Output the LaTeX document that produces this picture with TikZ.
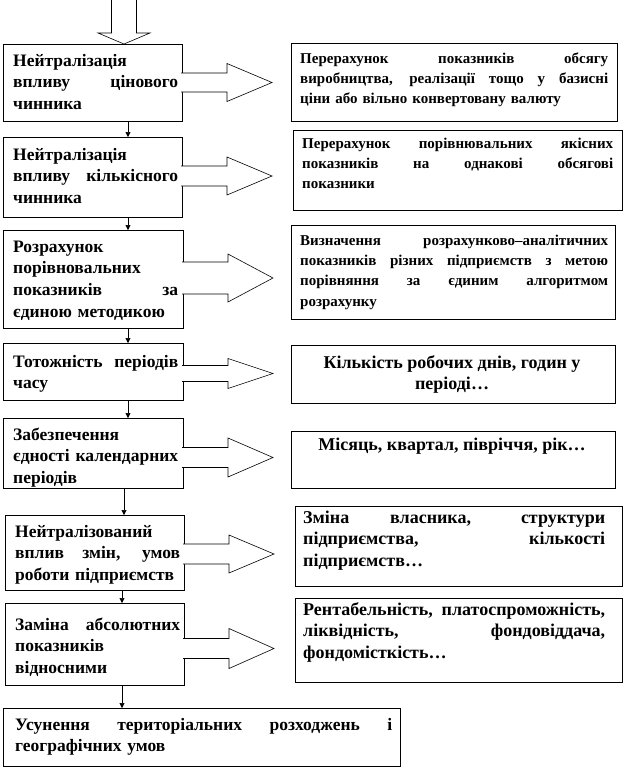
\documentclass[tikz,border=0pt]{standalone}
\usepackage{fontspec}
\setmainfont{Liberation Serif}
\usetikzlibrary{arrows.meta,calc}
\newcommand\jl[1]{\leavevmode\hbox to \hsize{\spaceskip=.25em plus 1fil minus .08em\xspaceskip=\spaceskip #1}}
\newcommand\blockar[4]{%
  \filldraw[barrow] ($(#1.east)+(-0.8,#2-#3)$) -- ($(#1.east)+(45,#2-#3)$)
    -- ($(#1.east)+(45,#2-#4)$) -- ($(#1.east)+(90,#2)$)
    -- ($(#1.east)+(45,#2+#4)$) -- ($(#1.east)+(45,#2+#3)$)
    -- ($(#1.east)+(-0.8,#2+#3)$);}
\begin{document}
\begin{tikzpicture}[x=1pt,y=-1pt,
  box/.style={draw,line width=0.6pt,fill=white,inner sep=0pt,outer sep=0pt,anchor=north west},
  barrow/.style={draw=black,fill=white,line width=0.6pt,line join=miter},
  conn/.style={draw,line width=0.6pt,-{Triangle[length=5pt,width=5pt]}},
  ltxt/.style={anchor=north west,inner sep=0pt,align=left,font=\fontsize{17.5}{21.7}\selectfont\bfseries},
  mtxt/.style={anchor=north west,inner sep=0pt,align=left,font=\fontsize{18}{21.7}\selectfont\bfseries},
  rtxt/.style={anchor=north west,inner sep=0pt,align=left,font=\fontsize{15}{20.3}\selectfont\bfseries},
  ctxt/.style={anchor=north,inner sep=0pt,align=center,font=\fontsize{18}{21}\selectfont\bfseries}]
\fill[white] (0,0) rectangle (624,769);
\useasboundingbox (0,0) rectangle (624,769);
% left boxes
\node[box,minimum width=179pt,minimum height=77pt] (L1) at (3,44) {};
\node[box,minimum width=179pt,minimum height=80pt] (L2) at (3,137) {};
\node[box,minimum width=180pt,minimum height=98pt] (L3) at (3,230) {};
\node[box,minimum width=180pt,minimum height=57pt] (L4) at (3,343) {};
\node[box,minimum width=180pt,minimum height=70pt] (L5) at (3,418) {};
\node[box,minimum width=179pt,minimum height=75pt] (L6) at (5,515) {};
\node[box,minimum width=179pt,minimum height=82pt] (L7) at (5,603) {};
\node[box,minimum width=397pt,minimum height=58pt] (L8) at (3,708) {};
% right boxes
\node[box,minimum width=326pt,minimum height=78pt] (R1) at (291,43) {};
\node[box,minimum width=329pt,minimum height=80pt] (R2) at (293,130) {};
\node[box,minimum width=324pt,minimum height=94pt] (R3) at (291,225) {};
\node[box,minimum width=324pt,minimum height=58pt] (R4) at (291,345) {};
\node[box,minimum width=324pt,minimum height=57pt] (R5) at (291,431) {};
\node[box,minimum width=327pt,minimum height=80pt] (R6) at (295,506) {};
\node[box,minimum width=327pt,minimum height=84pt] (R7) at (295,598) {};
% block arrows
\blockar{L1}{0}{9.5}{19}
\blockar{L2}{-1}{10}{19}
\blockar{L3}{-1}{16}{24}
\blockar{L4}{2}{8}{15}
\blockar{L5}{4.5}{10}{19.5}
\blockar{L6}{1.5}{10}{19}
\blockar{L7}{4.5}{10}{20}
% top entry arrow
\coordinate (topin) at ($(L1.north west)+(121,0)$);
\draw[barrow] ($(topin)+(-12.5,-44)$) -- ($(topin)+(-12.5,-11)$) -- ($(topin)+(-26,-11)$)
  -- (topin) -- ($(topin)+(26,-11)$) -- ($(topin)+(12.5,-11)$) -- ($(topin)+(12.5,-44)$);
% connectors
\coordinate (c1) at (128,0);
\coordinate (c2) at (124,0);
\coordinate (c3) at (122,0);
\draw[conn] (L1.south -| c1) -- (L2.north -| c1);
\draw[conn] (L2.south -| c1) -- (L3.north -| c1);
\draw[conn] (L3.south -| c1) -- (L4.north -| c1);
\draw[conn] (L4.south -| c1) -- (L5.north -| c1);
\draw[conn] (L5.south -| c2) -- (L6.north -| c2);
\draw[conn] (L6.south -| c3) -- (L7.north -| c3);
\draw[conn] (L7.south -| c3) -- (L8.north -| c3);
% left texts
\node[ltxt,text width=165pt] (T1) at (13,50.8) {\strut Нейтралізація\\\jl{впливу цінового}\\чинника};
\node[ltxt,text width=165pt] (T2) at (13,144.8) {\strut Нейтралізація\\\jl{впливу кількісного}\\чинника};
\node[ltxt,text width=165pt] (T3) at (13,236.8) {\strut Розрахунок\\порівновальних\\\jl{показників за}\\\mbox{єдиною методикою}};
\node[ltxt,text width=165pt] (T4) at (13,351.8) {\strut\jl{Тотожність періодів}\\часу};
\node[ltxt,text width=165pt] (T5) at (13,424.8) {\strut Забезпечення\\\jl{єдності календарних}\\періодів};
\node[ltxt,text width=165pt] (T6) at (15,521.8) {\strut Нейтралізований\\\jl{вплив змін, умов}\\\mbox{роботи підприємств}};
\node[ltxt,text width=165pt] (T7) at (15,614.8) {\strut\jl{Заміна абсолютних}\\показників\\відносними};
\node[ltxt,text width=377pt] (T8) at (15,714.8) {\strut\jl{Усунення територіальних розходжень і}\\\mbox{географічних умов}};
% right texts
\node[rtxt,text width=308pt] (S1) at (300,48.8) {\strut\jl{Перерахунок показників обсягу}\\\jl{виробництва, реалізації тощо у базисні}\\\mbox{ціни або вільно конвертовану валюту}};
\node[rtxt,text width=311pt] (S2) at (302,133.8) {\strut\jl{Перерахунок порівнювальних якісних}\\\jl{показників на однакові обсягові}\\показники};
\node[rtxt,text width=308pt] (S3) at (300,230.8) {\strut\jl{Визначення розрахунково–аналітичних}\\\jl{показників різних підприємств з метою}\\\jl{порівняння за єдиним алгоритмом}\\розрахунку};
\node[ctxt] (S4) at (452,353.3) {\strut Кількість робочих днів, годин у\\періоді…};
\node[ctxt] (S5) at (452,435.3) {\strut Місяць, квартал, півріччя, рік…};
\node[mtxt,text width=302pt] (S6) at (303,507.8) {\strut\jl{Зміна власника, структури}\\\jl{підприємства, кількості}\\підприємств…};
\node[mtxt,text width=302pt] (S7) at (303,599.8) {\strut\jl{Рентабельність, платоспроможність,}\\\jl{ліквідність, фондовіддача,}\\фондомісткість…};
\end{tikzpicture}
\end{document}
